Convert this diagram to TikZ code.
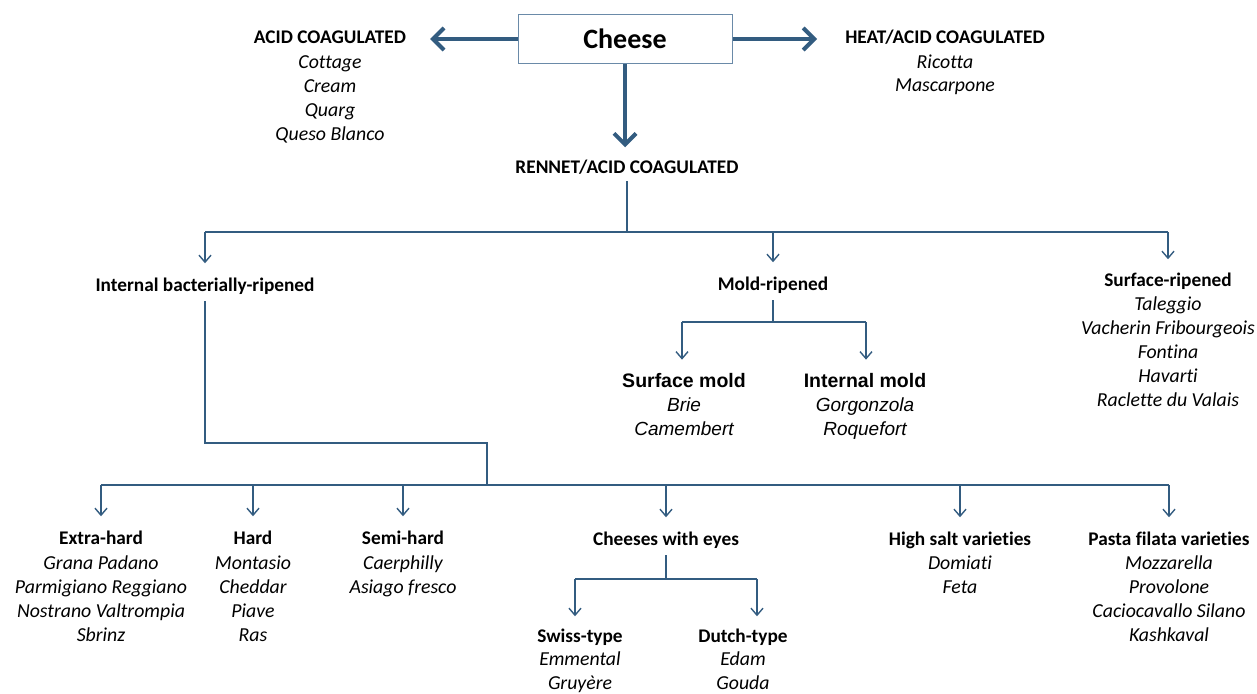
\documentclass[tikz,border=0pt]{standalone}
\usepackage{fontspec}
\setmainfont{Carlito}[Ligatures=NoCommon]
\newfontfamily\arialfam{Liberation Sans}
\usetikzlibrary{arrows.meta}
\definecolor{linkblue}{HTML}{335C80}
\definecolor{boxedge}{HTML}{6A8AA8}
\begin{document}
\begin{tikzpicture}[x=1pt,y=-1pt,
  head/.style={anchor=base, inner sep=0pt, font=\bfseries\fontsize{19.3}{24}\selectfont},
  % multi-line lists are placed by the baseline of their last line
  items/.style={anchor=base, inner sep=0pt, align=center, font=\itshape\fontsize{19.8}{24}\selectfont},
  ahead/.style={anchor=base, inner sep=0pt, font=\arialfam\bfseries\fontsize{19.5}{24}\selectfont},
  aitems/.style={anchor=base, inner sep=0pt, align=center, font=\arialfam\itshape\fontsize{19}{24}\selectfont},
  bigarrow/.style={draw=linkblue, line width=4pt, -{Straight Barb[length=11pt,width=22pt,line width=4pt]}},
  link/.style={draw=linkblue, line width=1.4pt},
  linkarrow/.style={link, -{Straight Barb[length=7pt,width=12pt,line width=1.4pt]}},
]
\path[use as bounding box] (0,0) rectangle (1257,693);

% root
\node[draw=boxedge, line width=1pt, minimum width=214pt, minimum height=49pt, inner sep=0pt,
      font=\bfseries\fontsize{28}{30}\selectfont] (cheese) at (625,39) {Cheese};

% first level
\node[head] (acid) at (330,44) {ACID COAGULATED};
\node[items] (acidl) at (330,140) {Cottage\\Cream\\Quarg\\Queso Blanco};
\node[head] (heat) at (945,44) {HEAT/ACID COAGULATED};
\node[items] (heatl) at (945,92) {Ricotta\\Mascarpone};
\node[head] (rennet) at (627,173) {RENNET/ACID COAGULATED};

\draw[bigarrow] (cheese.west) -- ([xshift=24pt]acid.east |- cheese.west);
\draw[bigarrow] (cheese.east) -- ([xshift=-28pt]heat.west |- cheese.east);
\draw[bigarrow, shorten >=12pt] (cheese.south) -- (cheese.south |- rennet.north);

% second level
\node[head] (ibr) at (205,291) {Internal bacterially-ripened};
\node[head] (mold) at (773,290) {Mold-ripened};
\node[head] (surf) at (1168,286) {Surface-ripened};
\node[items] (surfl) at (1168,406) {Taleggio\\Vacherin Fribourgeois\\Fontina\\Havarti\\Raclette du Valais};

\coordinate (bus1) at (627,232);
\draw[link, shorten <=7pt] (rennet.south) -- (rennet.south |- bus1);
\draw[link] (bus1 -| ibr.north) -- (bus1 -| surf.north);
\draw[linkarrow, shorten >=14pt] (bus1 -| ibr.north) -- (ibr.north);
\draw[linkarrow, shorten >=14pt] (bus1 -| mold.north) -- (mold.north);
\draw[linkarrow, shorten >=13pt] (bus1 -| surf.north) -- (surf.north);

% mold-ripened branch
\node[ahead] (smold) at (684,387) {Surface mold};
\node[aitems] (smoldl) at (684,435) {Brie\\Camembert};
\node[ahead] (imold) at (865,387) {Internal mold};
\node[aitems] (imoldl) at (865,435) {Gorgonzola\\Roquefort};

\coordinate (bus2) at (773,322);
\coordinate (sm1) at (682,322);
\coordinate (im1) at (866,322);
\draw[link, shorten <=7pt] (mold.south) -- (bus2);
\draw[link] (sm1) -- (im1);
\draw[linkarrow, shorten >=13pt] (sm1) -- (sm1 |- smold.north);
\draw[linkarrow, shorten >=13pt] (im1) -- (im1 |- imold.north);

% internal bacterially-ripened branch
\node[head] (xhard) at (101,544) {Extra-hard};
\node[items] (xhardl) at (101,641) {Grana Padano\\Parmigiano Reggiano\\Nostrano Valtrompia\\Sbrinz};
\node[head] (hard) at (253,544) {Hard};
\node[items] (hardl) at (253,641) {Montasio\\Cheddar\\Piave\\Ras};
\node[head] (semi) at (403,544) {Semi-hard};
\node[items] (semil) at (403,593) {Caerphilly\\Asiago fresco};
\node[head] (eyes) at (666,545) {Cheeses with eyes};
\node[head] (salt) at (960,545) {High salt varieties};
\node[items] (saltl) at (960,593) {Domiati\\Feta};
\node[head] (pasta) at (1169,545) {Pasta filata varieties};
\node[items] (pastal) at (1169,641) {Mozzarella\\Provolone\\Caciocavallo Silano\\Kashkaval};

\coordinate (elbow1) at (205,443);
\coordinate (elbow2) at (487,443);
\coordinate (bus3) at (487,485);
\draw[link, shorten <=7pt] (ibr.south) -- (elbow1) -- (elbow2) -- (bus3);
\draw[link] (bus3 -| xhard.north) -- (bus3 -| pasta.north);
\foreach \n in {xhard,hard,semi,eyes,salt,pasta}
  \draw[linkarrow, shorten >=14pt] (bus3 -| \n.north) -- (\n.north);

% cheeses with eyes branch
\node[head] (swiss) at (580,642) {Swiss-type};
\node[items] (swissl) at (580,689) {Emmental\\Gruyère};
\node[head] (dutch) at (743,642) {Dutch-type};
\node[items] (dutchl) at (743,689) {Edam\\Gouda};

\coordinate (bus4) at (666,579);
\coordinate (sw1) at (575,579);
\coordinate (du1) at (757,579);
\draw[link, shorten <=7pt] (eyes.south) -- (bus4);
\draw[link] (sw1) -- (du1);
\draw[linkarrow, shorten >=12pt] (sw1) -- (sw1 |- swiss.north);
\draw[linkarrow, shorten >=12pt] (du1) -- (du1 |- dutch.north);
\end{tikzpicture}
\end{document}
